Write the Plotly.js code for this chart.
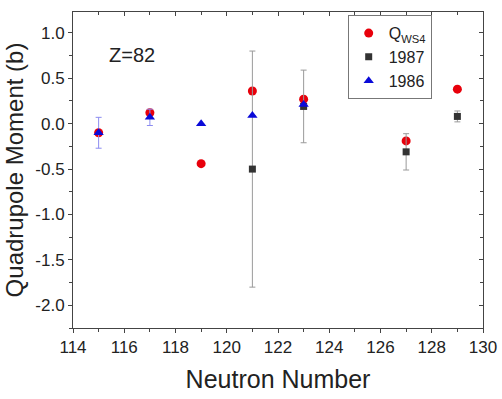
<!DOCTYPE html>
<html>
<head>
<meta charset="utf-8">
<script src="https://cdn.plot.ly/plotly-3.0.1.min.js"></script>
<style>html,body{margin:0;padding:0;background:#fff;}#chart{width:502px;height:399px;}</style>
</head>
<body>
<div id="chart"></div>
<script>
// Neutron numbers
const nWS4 = [115, 117, 119, 121, 123, 127, 129];
const qWS4 = [-0.10, 0.12, -0.44, 0.36, 0.27, -0.19, 0.38];

const n1987 = [121, 123, 127, 129];
const q1987 = [-0.50, 0.19, -0.31, 0.08];
const err1987 = [1.30, 0.40, 0.20, 0.06];

const n1986 = [115, 117, 119, 121, 123];
const q1986 = [-0.10, 0.07, 0.00, 0.09, 0.21];
const err1986 = [0.17, 0.09, 0, 0, 0];

const xTickVals = [114, 116, 118, 120, 122, 124, 126, 128, 130];
const yTickVals = [1.0, 0.5, 0.0, -0.5, -1.0, -1.5, -2.0];
const yTickLabels = ['1.0', '0.5', '0.0', '-0.5', '-1.0', '-1.5', '-2.0'];

const font = 'Liberation Sans, Arial, sans-serif';

const traces = [
  {
    x: nWS4, y: qWS4, type: 'scatter', mode: 'markers', name: 'Q<sub>WS4</sub>',
    marker: {symbol: 'circle', size: 9, color: '#e8000b'}
  },
  {
    x: n1987, y: q1987, type: 'scatter', mode: 'markers', name: '1987',
    marker: {symbol: 'square', size: 7, color: '#333333'},
    error_y: {type: 'data', array: err1987, visible: true, color: '#9a9a9a', thickness: 1, width: 3}
  },
  {
    x: n1986, y: q1986, type: 'scatter', mode: 'markers', name: '1986',
    marker: {symbol: 'triangle-up', size: 9, color: '#0a0ad8'},
    error_y: {type: 'data', array: err1986, visible: true, color: '#8c8cf0', thickness: 1, width: 3}
  },
  // invisible trace to activate mirrored top/right axes
  {x: [114], y: [0], xaxis: 'x2', yaxis: 'y2', mode: 'markers', showlegend: false,
   marker: {opacity: 0}, hoverinfo: 'skip'}
];

const axisCommon = {
  showgrid: false, zeroline: false, showline: true, linecolor: '#444', linewidth: 1,
  tickcolor: '#444', ticklen: 4, tickwidth: 1,
  tickfont: {family: font, size: 17, color: '#222'}
};

const layout = {
  width: 502, height: 399,
  margin: {l: 73, r: 19, t: 12, b: 71},
  paper_bgcolor: '#fff', plot_bgcolor: '#fff',
  font: {family: font, color: '#222'},
  showlegend: true,
  legend: {
    x: 0.67, y: 0.99, xanchor: 'left', yanchor: 'top',
    bordercolor: '#777', borderwidth: 1, bgcolor: '#fff',
    font: {family: font, size: 16, color: '#222'},
    itemwidth: 30, tracegroupgap: 0
  },
  xaxis: Object.assign({}, axisCommon, {
    range: [114, 130], tickvals: xTickVals, ticks: 'outside',
    minor: {dtick: 1, ticks: 'outside', ticklen: 3, tickcolor: '#444'},
    title: {text: 'Neutron Number', font: {family: font, size: 25, color: '#222'}, standoff: 14}
  }),
  yaxis: Object.assign({}, axisCommon, {
    range: [-2.25, 1.23], tickvals: yTickVals, ticktext: yTickLabels, ticks: 'outside',
    minor: {dtick: 0.25, tick0: 0, ticks: 'outside', ticklen: 3, tickcolor: '#444'},
    title: {text: 'Quadrupole Moment (b)', font: {family: font, size: 24, color: '#222'}, standoff: 4}
  }),
  xaxis2: Object.assign({}, axisCommon, {
    overlaying: 'x', matches: 'x', side: 'top', anchor: 'y2', range: [114, 130],
    tickvals: xTickVals, ticks: 'inside', showticklabels: false,
    minor: {dtick: 1, ticks: 'inside', ticklen: 3, tickcolor: '#444'}
  }),
  yaxis2: Object.assign({}, axisCommon, {
    overlaying: 'y', matches: 'y', side: 'right', anchor: 'x2', range: [-2.25, 1.23],
    tickvals: yTickVals, ticks: 'inside', showticklabels: false,
    minor: {dtick: 0.25, tick0: 0, ticks: 'inside', ticklen: 3, tickcolor: '#444'}
  }),
  annotations: [
    {text: 'Z=82', xref: 'x', yref: 'y', x: 116.3, y: 0.76, showarrow: false,
     font: {family: font, size: 20, color: '#222'}}
  ]
};

Plotly.newPlot('chart', traces, layout, {displayModeBar: false, staticPlot: true});
</script>
</body>
</html>
